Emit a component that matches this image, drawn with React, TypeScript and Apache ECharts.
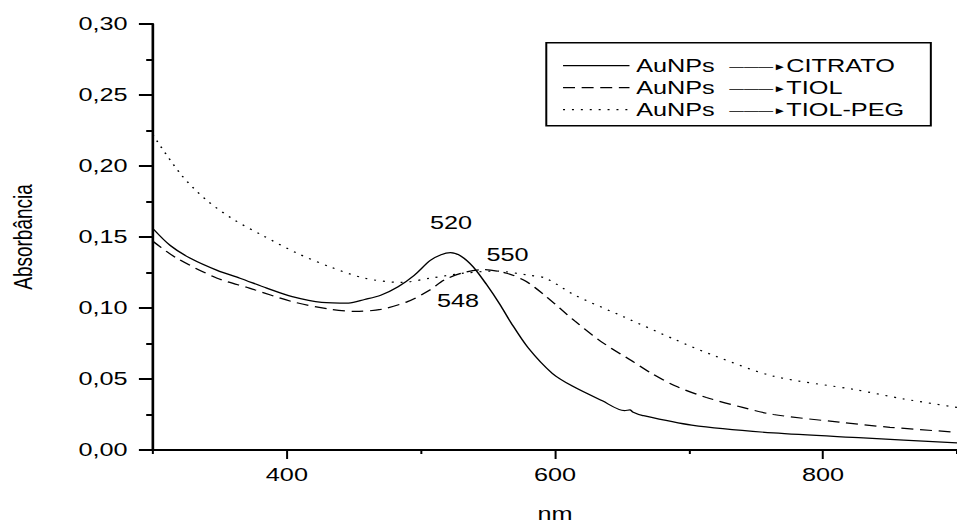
import React, { useEffect, useRef } from "react";
import * as echarts from "echarts";

// ---- data (wavelength nm, absorbance) ----
const citrato: [number, number][] = [
  [300, 0.156], [313, 0.144], [328, 0.135], [348, 0.1265], [365, 0.121], [385, 0.114],
  [404, 0.108], [426, 0.104], [446, 0.1035], [458, 0.106], [470, 0.109], [483, 0.115],
  [495, 0.123], [507, 0.1335], [515, 0.1375], [522, 0.139], [530, 0.1365], [539, 0.129],
  [549, 0.1165], [559, 0.1025], [567, 0.09], [580, 0.072], [598, 0.054], [613, 0.045],
  [635, 0.0348], [652, 0.0277], [656, 0.0283], [658, 0.0268], [665, 0.0244], [702, 0.0175],
  [763, 0.012], [830, 0.0085], [900, 0.005],
];
const tiol: [number, number][] = [
  [300, 0.147], [318, 0.135], [348, 0.121], [372, 0.114], [404, 0.1045], [433, 0.099],
  [451, 0.0976], [470, 0.099], [490, 0.1045], [507, 0.1128], [517, 0.1196], [532, 0.125],
  [547, 0.127], [564, 0.1245], [578, 0.119], [591, 0.11], [615, 0.0907], [635, 0.076],
  [657, 0.063], [672, 0.054], [690, 0.045], [713, 0.037], [740, 0.03], [763, 0.025],
  [812, 0.0196], [850, 0.016], [900, 0.0125],
];
const tiolPeg: [number, number][] = [
  [300, 0.222], [321, 0.194], [340, 0.176], [360, 0.1625], [382, 0.151], [409, 0.138],
  [433, 0.1287], [458, 0.121], [485, 0.118], [507, 0.121], [532, 0.1245], [556, 0.126],
  [581, 0.123], [593, 0.121], [615, 0.109], [652, 0.0935], [689, 0.078], [720, 0.066],
  [763, 0.052], [824, 0.0425], [860, 0.036], [900, 0.03],
];
const seriesNames = ["CITRATO", "TIOL", "TIOL-PEG"];
const legendPrefix = "AuNPs";
const peakLabels = ["520", "550", "548"];
const xTickValues = [400, 600, 800];
const xMinorTickValues = [300, 500, 700, 900];

const SCALE_X = 957 / 720;
const FONT = "'Liberation Sans', Arial, sans-serif";

export default function App() {
  const ref = useRef<HTMLDivElement>(null);
  useEffect(() => {
    if (!ref.current) return;
    const chart = echarts.init(ref.current, null, { renderer: "svg" });
    const black = "#000";
    const lineSeries = (name: string, data: [number, number][], type: any, mark?: any) => ({
      name,
      type: "line",
      data,
      xAxisIndex: 0,
      yAxisIndex: 0,
      smooth: 0.3,
      symbol: "none",
      lineStyle: { color: black, width: 1.2, type },
      itemStyle: { color: black },
      markPoint: mark,
    });
    const peak = (text: string, coord: [number, number]) => ({
      symbol: "circle",
      symbolSize: 0,
      silent: true,
      label: {
        show: true,
        position: "inside",
        color: black,
        fontSize: 19,
        fontFamily: FONT,
        formatter: () => text,
      },
      data: [{ coord }],
    });
    chart.setOption({
      animation: false,
      backgroundColor: "#fff",
      grid: { left: 114.4, top: 24, width: 613.2, height: 434.3, containLabel: false },
      legend: {
        orient: "vertical",
        left: 411,
        top: 42.7,
        padding: [13, 20, 6, 12],
        itemWidth: 50,
        itemHeight: 14,
        itemGap: 2,
        borderColor: black,
        borderWidth: 1.5,
        data: seriesNames,
        itemStyle: { opacity: 0, borderWidth: 0 },
        lineStyle: { width: 1.2 },
        textStyle: {
          color: black,
          fontSize: 19,
          fontFamily: FONT,
          lineHeight: 20,
          rich: {
            a: { fontSize: 19, fontFamily: FONT, color: black, padding: [0, 11, 0, 0] },
            l: { fontSize: 11, fontFamily: FONT, color: black },
            h: { fontSize: 10, fontFamily: FONT, color: black },
            b: { fontSize: 19, fontFamily: FONT, color: black },
          },
        },
        formatter: (name: string) => `{a|${legendPrefix}}{l|———}{h|►}{b|${name}}`,
      },
      xAxis: [
        {
          type: "value",
          min: 300,
          max: 900,
          position: "bottom",
          name: "nm",
          nameLocation: "middle",
          nameGap: 54,
          nameTextStyle: { color: black, fontSize: 19, fontFamily: FONT },
          axisLine: { show: true, lineStyle: { color: black, width: 2 } },
          axisTick: { show: true, customValues: xTickValues, length: 9, lineStyle: { color: black, width: 1.5 } },
          axisLabel: {
            customValues: xTickValues,
            color: black,
            fontSize: 19,
            fontFamily: FONT,
            margin: 15,
          },
          splitLine: { show: false },
        },
        {
          type: "value",
          min: 300,
          max: 900,
          position: "bottom",
          axisLine: { show: false },
          axisTick: { show: true, customValues: xMinorTickValues, length: 4, lineStyle: { color: black, width: 1.5 } },
          axisLabel: { show: false },
          splitLine: { show: false },
        },
      ],
      yAxis: {
        type: "value",
        min: 0,
        max: 0.3,
        interval: 0.05,
        name: "Absorbância",
        nameLocation: "middle",
        nameRotate: 90,
        nameGap: 88,
        nameTextStyle: { color: black, fontSize: 19, fontFamily: FONT },
        axisLine: { show: true, lineStyle: { color: black, width: 2 } },
        axisTick: { show: true, length: 10.5, lineStyle: { color: black, width: 2 } },
        minorTick: { show: true, splitNumber: 2, length: 5, lineStyle: { color: black, width: 2 } },
        axisLabel: {
          color: black,
          fontSize: 19,
          fontFamily: FONT,
          margin: 19,
          formatter: (v: number) => v.toFixed(2).replace(".", ","),
        },
        splitLine: { show: false },
        minorSplitLine: { show: false },
      },
      series: [
        lineSeries(seriesNames[0], citrato, "solid", peak(peakLabels[0], [522.5, 0.1604])),
        lineSeries(seriesNames[1], tiol, [9, 5], peak(peakLabels[1], [564.6, 0.1376])),
        lineSeries(seriesNames[2], tiolPeg, [1.5, 5.2], peak(peakLabels[2], [527.7, 0.1052])),
      ],
    });
    return () => chart.dispose();
  }, []);
  return (
    <div
      ref={ref}
      style={{
        position: "absolute",
        left: 0,
        top: 0,
        width: 720,
        height: 528,
        transform: `scaleX(${SCALE_X})`,
        transformOrigin: "0 0",
        background: "#fff",
      }}
    />
  );
}
